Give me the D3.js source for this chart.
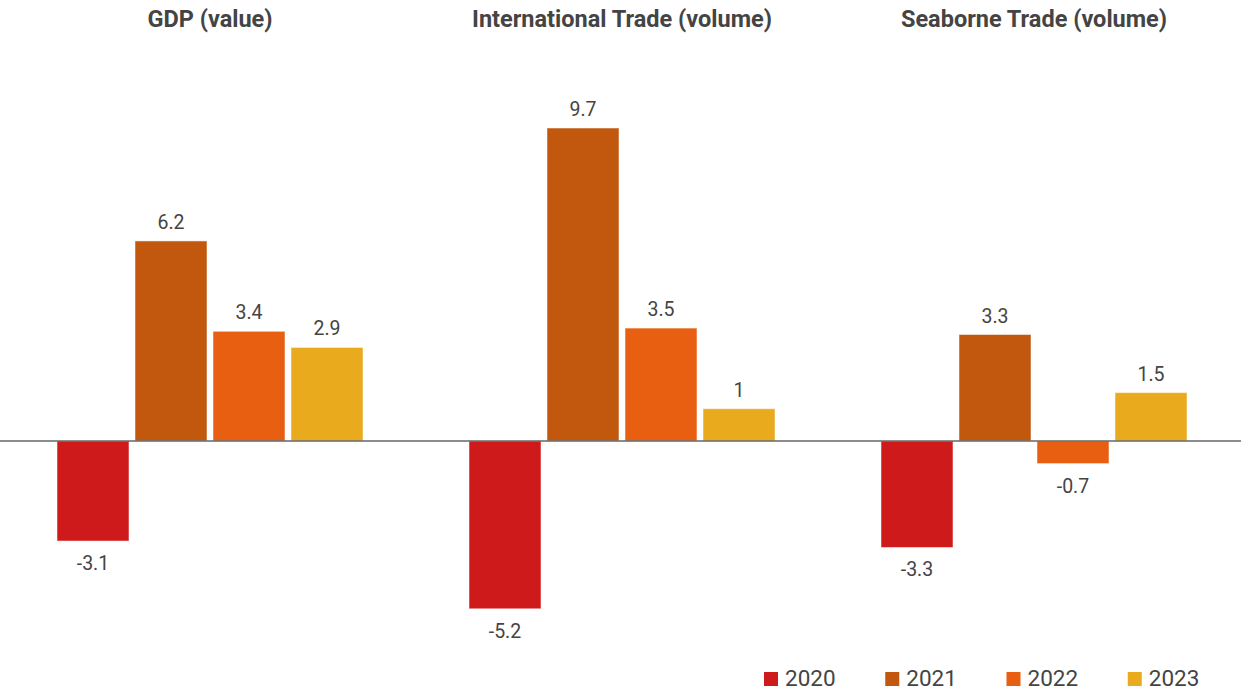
<!DOCTYPE html>
<html><head><meta charset="utf-8">
<script src="https://cdn.jsdelivr.net/npm/d3@7"></script>
<style>body{margin:0;background:#fff;}svg{display:block;font-family:Roboto,"Noto Sans",sans-serif;}</style>
</head><body>
<svg id="chart" width="1244" height="691"></svg>
<script>
const groups = ["GDP (value)", "International Trade (volume)", "Seaborne Trade (volume)"];
const years = ["2020", "2021", "2022", "2023"];
const v2020 = [-3.1, -5.2, -3.3];
const v2021 = [6.2, 9.7, 3.3];
const v2022 = [3.4, 3.5, -0.7];
const v2023 = [2.9, 1, 1.5];
const colors = ["#cf1a1b", "#c2570e", "#e95f11", "#e9aa1e"];

const series = [v2020, v2021, v2022, v2023];
const data = groups.map((g, gi) => ({group: g, values: years.map((y, yi) => ({year: y, value: series[yi][gi]}))}));

const svg = d3.select("#chart");
const x0 = d3.scaleBand().domain(groups).range([4, 1240]).padding(0);
const x1 = d3.scaleBand().domain(years).range([53, 359]).paddingInner(0.077).paddingOuter(0);
const y = d3.scaleLinear().domain([0, 9.7]).range([441, 128]);
const color = d3.scaleOrdinal().domain(years).range(colors);

// titles
svg.selectAll("text.title").data(groups).enter().append("text")
  .attr("class", "title")
  .attr("x", d => x0(d) + x0.bandwidth() / 2)
  .attr("y", 27)
  .attr("text-anchor", "middle")
  .attr("font-size", 23.5).attr("font-weight", "bold").attr("fill", "#444")
  .text(d => d);

const g = svg.selectAll("g.grp").data(data).enter().append("g")
  .attr("transform", d => `translate(${x0(d.group)},0)`);

g.selectAll("rect").data(d => d.values).enter().append("rect")
  .attr("x", d => x1(d.year))
  .attr("width", x1.bandwidth())
  .attr("y", d => Math.min(y(d.value), y(0)))
  .attr("height", d => Math.abs(y(d.value) - y(0)))
  .attr("fill", d => color(d.year))
  .attr("stroke", "rgba(255,255,255,0.5)").attr("stroke-width", 1);

g.selectAll("text.val").data(d => d.values).enter().append("text")
  .attr("class", "val")
  .attr("x", d => x1(d.year) + x1.bandwidth() / 2)
  .attr("y", d => d.value >= 0 ? y(d.value) - 12 : y(d.value) + 29)
  .attr("text-anchor", "middle")
  .attr("font-size", 19.5).attr("fill", "#444")
  .text(d => String(d.value));

// baseline
svg.append("line").attr("x1", 0).attr("x2", 1241).attr("y1", y(0)).attr("y2", y(0))
  .attr("stroke", "#666").attr("stroke-width", 1.3);

// legend
const lx = d3.scaleBand().domain(years).range([764, 1249]);
const leg = svg.selectAll("g.leg").data(years).enter().append("g")
  .attr("transform", d => `translate(${lx(d)},0)`);
leg.append("rect").attr("x", 0).attr("y", 672).attr("width", 14).attr("height", 14).attr("fill", d => color(d));
leg.append("text").attr("x", 21).attr("y", 685.5).attr("font-size", 22.5).attr("fill", "#444").text(d => d);
</script>
</body></html>
